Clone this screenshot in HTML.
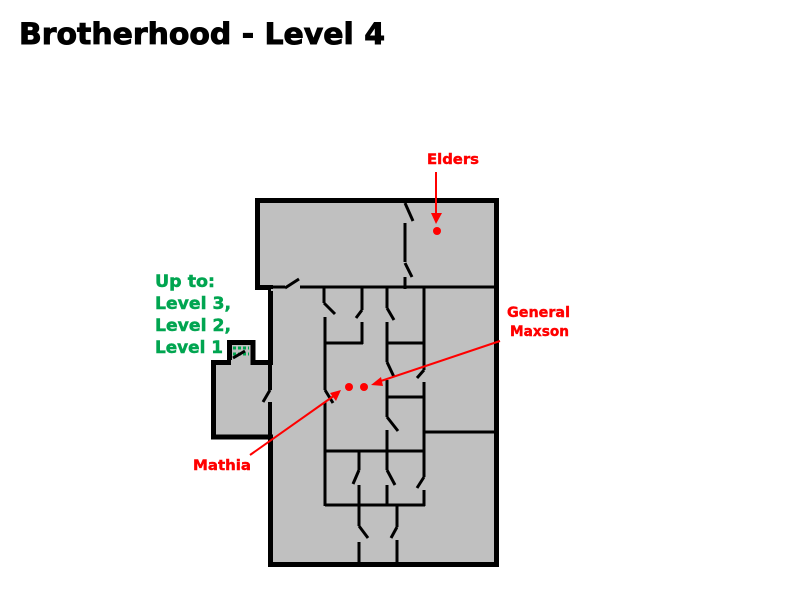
<!DOCTYPE html>
<html><head><meta charset="utf-8"><style>
html,body{margin:0;padding:0;background:#fff;}
svg{display:block;}
text{font-family:"DejaVu Sans","Liberation Sans",sans-serif;font-weight:bold;}
</style></head><body>
<svg width="800" height="601" viewBox="0 0 800 601" xmlns="http://www.w3.org/2000/svg">
<rect width="800" height="601" fill="#fff"/>
<text x="19" y="44" font-size="29" fill="#000" stroke="#000" stroke-width="0.9" textLength="366" lengthAdjust="spacingAndGlyphs">Brotherhood - Level 4</text>

<g fill="#c0c0c0" stroke="#000" stroke-width="5">
<path d="M257.5,200.5 H496.5 V564.5 H270.5 V437 H213.5 V362.5 H229.5 V342.5 H253 V362.5 H270.5 V287.5 H257.5 Z"/>
</g>
<g fill="none" stroke="#00a550" stroke-width="3" stroke-dasharray="3,2">
<line x1="233" y1="348" x2="249" y2="348"/>
<line x1="233" y1="354" x2="249" y2="354"/>
</g>
<g stroke="#000" stroke-width="4" fill="none">
<line x1="270" y1="362" x2="270" y2="390"/>
<line x1="270" y1="402" x2="270" y2="437"/>
</g>
<rect x="271" y="289" width="223" height="2" fill="#c0c0c0"/>
<g stroke="#000" stroke-width="3" fill="none">
<line x1="260" y1="287" x2="285" y2="287"/>
<line x1="300" y1="287" x2="496" y2="287"/>
<line x1="285" y1="288" x2="299" y2="279"/>
<line x1="405" y1="200" x2="405" y2="203"/>
<line x1="405" y1="203" x2="413" y2="221"/>
<line x1="405" y1="223" x2="405" y2="262"/>
<line x1="405" y1="263" x2="412" y2="277"/>
<line x1="405" y1="277" x2="405" y2="289"/>
<line x1="324" y1="287" x2="324" y2="303"/>
<line x1="324" y1="303" x2="335" y2="314"/>
<line x1="325" y1="317" x2="325" y2="390"/>
<line x1="325" y1="390" x2="333" y2="403"/>
<line x1="325" y1="402" x2="325" y2="506"/>
<line x1="362" y1="287" x2="362" y2="310"/>
<line x1="362" y1="310" x2="356" y2="318"/>
<line x1="362" y1="322" x2="362" y2="344"/>
<line x1="324" y1="343" x2="363" y2="343"/>
<line x1="387" y1="287" x2="387" y2="308"/>
<line x1="387" y1="308" x2="394" y2="320"/>
<line x1="387" y1="322" x2="387" y2="362"/>
<line x1="387" y1="362" x2="394" y2="377"/>
<line x1="387" y1="380" x2="387" y2="417"/>
<line x1="387" y1="417" x2="398" y2="431"/>
<line x1="387" y1="430" x2="387" y2="470"/>
<line x1="387" y1="470" x2="395" y2="485"/>
<line x1="387" y1="485" x2="387" y2="506"/>
<line x1="387" y1="343" x2="425" y2="343"/>
<line x1="424" y1="287" x2="424" y2="370"/>
<line x1="424" y1="370" x2="417" y2="378"/>
<line x1="424" y1="382" x2="424" y2="477"/>
<line x1="424" y1="477" x2="417" y2="488"/>
<line x1="424" y1="490" x2="424" y2="506"/>
<line x1="387" y1="397" x2="424" y2="397"/>
<line x1="424" y1="432" x2="496" y2="432"/>
<line x1="325" y1="451" x2="424" y2="451"/>
<line x1="325" y1="505" x2="425" y2="505"/>
<line x1="359" y1="451" x2="359" y2="470"/>
<line x1="359" y1="470" x2="353" y2="484"/>
<line x1="359" y1="485" x2="359" y2="526"/>
<line x1="359" y1="526" x2="368" y2="538"/>
<line x1="359" y1="542" x2="359" y2="564"/>
<line x1="397" y1="505" x2="397" y2="527"/>
<line x1="397" y1="527" x2="391" y2="538"/>
<line x1="397" y1="540" x2="397" y2="564"/>
<line x1="270" y1="390" x2="263" y2="402"/>
<line x1="233" y1="358" x2="245" y2="351"/>
</g>
<rect x="231" y="360" width="14" height="5" fill="#c0c0c0"/>

<g fill="#ff0000" stroke="none">
<circle cx="437" cy="231" r="4"/>
<circle cx="349" cy="387" r="4"/>
<circle cx="364" cy="387" r="4"/>
<polygon points="431,213 442,213 436,224"/>
<polygon points="371,385 381,377 383,386"/>
<polygon points="341,390 330,393 336,401"/>
</g>
<g stroke="#ff0000" stroke-width="2">
<line x1="436" y1="172" x2="436" y2="215"/>
<line x1="500" y1="341" x2="378" y2="382"/>
<line x1="250" y1="455" x2="335" y2="395"/>
</g>
<g fill="#ff0000" stroke="#ff0000" stroke-width="0.4" font-size="14">
<text x="427" y="164" textLength="52" lengthAdjust="spacingAndGlyphs">Elders</text>
<text x="507" y="317" textLength="63" lengthAdjust="spacingAndGlyphs">General</text>
<text x="510" y="336" textLength="59" lengthAdjust="spacingAndGlyphs">Maxson</text>
<text x="193" y="470" textLength="58" lengthAdjust="spacingAndGlyphs">Mathia</text>
</g>
<g fill="#00a550" stroke="#00a550" stroke-width="0.5" font-size="17">
<text x="155" y="287" textLength="60" lengthAdjust="spacingAndGlyphs">Up to:</text>
<text x="155" y="309" textLength="76" lengthAdjust="spacingAndGlyphs">Level 3,</text>
<text x="155" y="331" textLength="76" lengthAdjust="spacingAndGlyphs">Level 2,</text>
<text x="155" y="353" textLength="68" lengthAdjust="spacingAndGlyphs">Level 1</text>
</g>
</svg>
</body></html>
